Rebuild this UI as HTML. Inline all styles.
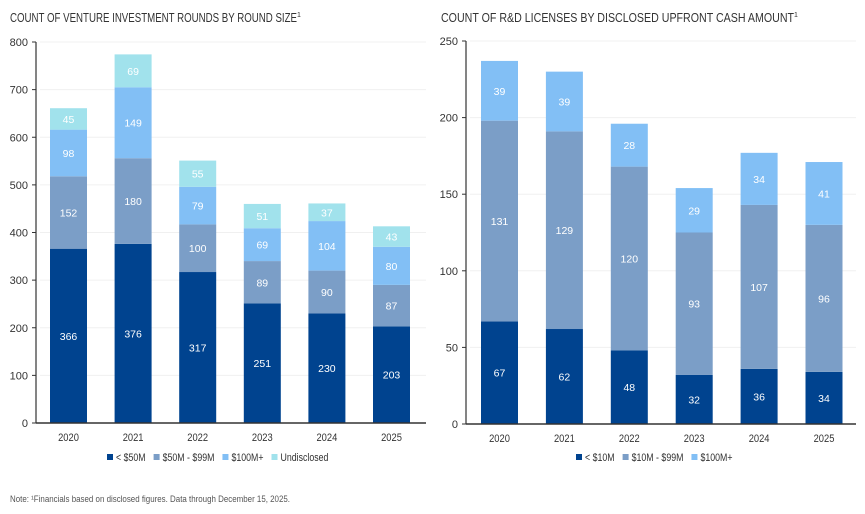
<!DOCTYPE html>
<html><head><meta charset="utf-8"><style>
body{margin:0;background:#fff;width:865px;height:509px;overflow:hidden;font-family:"Liberation Sans",sans-serif;}
svg text{font-family:"Liberation Sans",sans-serif;}
</style></head><body>
<svg id="s" width="865" height="509">
<text x="10" y="22" font-size="12.5" fill="#333"><tspan textLength="287" lengthAdjust="spacingAndGlyphs">COUNT OF VENTURE INVESTMENT ROUNDS BY ROUND SIZE</tspan><tspan font-size="7" dy="-5">1</tspan></text>
<text x="441" y="22" font-size="12.5" fill="#333"><tspan textLength="353" lengthAdjust="spacingAndGlyphs">COUNT OF R&amp;D LICENSES BY DISCLOSED UPFRONT CASH AMOUNT</tspan><tspan font-size="7" dy="-5">1</tspan></text>
<text x="10" y="502" font-size="9" fill="#555" textLength="280" lengthAdjust="spacingAndGlyphs">Note: ¹Financials based on disclosed figures. Data through December 15, 2025.</text>
</svg>
<script>
const years=["2020","2021","2022","2023","2024","2025"];
const vLt50=[366,376,317,251,230,203];
const v50to99=[152,180,100,89,90,87];
const v100p=[98,149,79,69,104,80];
const vUndis=[45,69,55,51,37,43];
const leftTicks=[0,100,200,300,400,500,600,700,800];
const lLt10=[67,62,48,32,36,34];
const l10to99=[131,129,120,93,107,96];
const l100p=[39,39,28,29,34,41];
const rightTicks=[0,50,100,150,200,250];
const C=["#00438f","#7b9ec7","#82bff5","#a1e2ec"];
const svg=document.getElementById('s');
const NS="http://www.w3.org/2000/svg";
function mk(t,a){const e=document.createElementNS(NS,t);for(const k in a)e.setAttribute(k,a[k]);svg.appendChild(e);return e;}
function squeeze(t,f){const w=t.getComputedTextLength();t.setAttribute('textLength',w*f);t.setAttribute('lengthAdjust','spacingAndGlyphs');return w*f;}
function chart(cfg){
  const y=v=>cfg.y0-(v/cfg.max)*(cfg.y0-cfg.y1);
  const x=i=>cfg.xc0+i*cfg.step;
  cfg.ticks.forEach(t=>{
    if(t>0){const g=mk('line',{x1:cfg.ax+4,x2:cfg.ax+cfg.w,y1:y(t),y2:y(t),stroke:'#f0f0f0','stroke-width':1});
    
    }
    const tk=mk('line',{x1:cfg.ax-4,x2:cfg.ax,y1:y(t),y2:y(t),stroke:'#333'});
    
    
    const l=mk('text',{x:cfg.ax-8,y:y(t)+4,'font-size':11,fill:'#333','text-anchor':'end'});l.textContent=t;
    
    
  });
  const ya=mk('line',{x1:cfg.ax,x2:cfg.ax,y1:y(cfg.max),y2:y(0),stroke:'#333','stroke-width':1.2});
  
  
  years.forEach((yr,i)=>{
    let base=0;
    cfg.series.forEach((s,k)=>{
      const v=s[i];
      const r=mk('rect',{x:x(i)-18.5,width:37,y:y(base+v),height:y(base)-y(base+v),fill:C[k]});
      
      
      const t=mk('text',{x:x(i),y:(y(base)+y(base+v))/2+4,'font-size':10.5,fill:'#fff','text-anchor':'middle'});t.textContent=v;
      
      
      base+=v;
    });
    const xl=mk('text',{x:x(i),y:cfg.y0+18,'font-size':11,fill:'#333','text-anchor':'middle'});xl.textContent=yr;
    
    
    squeeze(xl,0.85);
  });
  const xa=mk('line',{x1:cfg.ax,x2:cfg.ax+cfg.w,y1:y(0),y2:y(0),stroke:'#333','stroke-width':1.5});
  
  
  let lx=cfg.legX;
  cfg.legend.forEach((n,k)=>{
    const r=mk('rect',{x:lx,y:454,width:6,height:6,fill:C[k]});
    
    
    const t=mk('text',{x:lx+9,y:461,'font-size':11,fill:'#333'});t.textContent=n;
    
    
    lx+=9+squeeze(t,0.8)+8;
  });
}
chart({id:'venture',y0:423,y1:42,max:800,ax:36,w:390,xc0:68.5,step:64.6,ticks:leftTicks,series:[vLt50,v50to99,v100p,vUndis],legend:["< $50M","$50M - $99M","$100M+","Undisclosed"],legX:107});
chart({id:'licenses',y0:424,y1:41,max:250,ax:466,w:390,xc0:499.5,step:64.9,ticks:rightTicks,series:[lLt10,l10to99,l100p],legend:["< $10M","$10M - $99M","$100M+"],legX:576});
</script>
</body></html>
